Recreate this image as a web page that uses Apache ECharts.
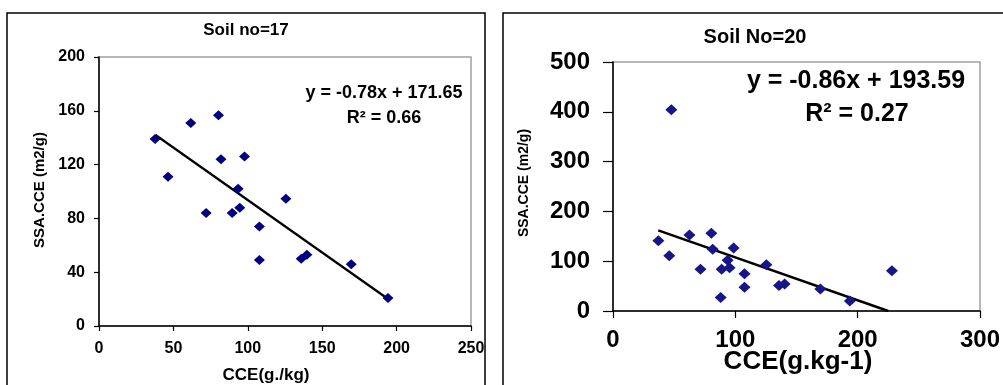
<!DOCTYPE html>
<html>
<head>
<meta charset="utf-8">
<script src="https://cdn.jsdelivr.net/npm/echarts@6/dist/echarts.min.js"></script>
<style>html,body{margin:0;padding:0;background:#fff}#c{width:1003px;height:385px}</style>
</head>
<body>
<div id="c"></div>
<script>
// Soil no=17 : [CCE, SSA.CCE]
const soil17 = [
  [37.7,139],[46.4,111],[61.7,151],[72,84],[80.3,156.6],[82,124],[89.5,84],
  [97.8,126],[93.5,102],[94.6,88],[107.8,74],[107.8,49],[125.6,94.7],
  [135.9,50],[139.7,53],[169.5,46],[194.2,20.8]
];
const trend17 = [[38,142],[195,19.5]];
// Soil No=20
const soil20 = [
  [37.1,141],[46,111],[47.7,404],[62.5,152.6],[71.5,84],[80.4,156],[81.5,124],
  [88,27],[88.8,84],[93.7,102],[95.3,87],[98.6,126.5],[107.5,75],[107.5,47.5],
  [125.4,93],[135.7,51],[140.3,54],[169.5,44],[193.6,20],[228,81]
];
const trend20 = [[37,162],[225,0]];
const xTicksL = [0,250,50];
const yTicksL = [0,200,40];
const xTicksR = [0,300,100];
const yTicksR = [0,500,100];

const FF = '"Liberation Sans", Arial, sans-serif';
const chart = echarts.init(document.getElementById('c'));

function axisCommon(fs, margin, tickLen) {
  return {
    axisLine: {show: true, onZero: false, lineStyle: {color: '#000', width: 1.5}},
    axisTick: {show: true, inside: false, length: tickLen, lineStyle: {color: '#000', width: 1.2}},
    axisLabel: {color: '#000', fontWeight: 'bold', fontSize: fs, fontFamily: FF, margin: margin},
    splitLine: {show: false}
  };
}

const txt = (x, y, text, size, rot) => ({
  type: 'text', x: x, y: y, z: 10, rotation: rot || 0,
  style: {text: text, fontSize: size, fontWeight: 'bold', fontFamily: FF,
    fill: '#000', align: 'center', verticalAlign: 'middle'}
});

chart.setOption({
  animation: false,
  backgroundColor: '#fff',
  grid: [
    {left: 99, top: 57, width: 372, height: 269, show: true, borderColor: '#a0a0a0', borderWidth: 1.5, backgroundColor: 'transparent'},
    {left: 613, top: 62, width: 370, height: 249, show: true, borderColor: '#a0a0a0', borderWidth: 1.5, backgroundColor: 'transparent'}
  ],
  xAxis: [
    Object.assign({type: 'value', gridIndex: 0, min: xTicksL[0], max: xTicksL[1], interval: xTicksL[2]}, axisCommon(16, 15, 5)),
    Object.assign({type: 'value', gridIndex: 1, min: xTicksR[0], max: xTicksR[1], interval: xTicksR[2]}, axisCommon(24, 17, 7))
  ],
  yAxis: [
    Object.assign({type: 'value', gridIndex: 0, min: yTicksL[0], max: yTicksL[1], interval: yTicksL[2]}, axisCommon(16, 14, 5)),
    Object.assign({type: 'value', gridIndex: 1, min: yTicksR[0], max: yTicksR[1], interval: yTicksR[2]}, axisCommon(24, 23, 10))
  ],
  series: [
    {type: 'line', xAxisIndex: 0, yAxisIndex: 0, data: trend17, symbol: 'none',
     lineStyle: {color: '#000', width: 2.2}, z: 2},
    {type: 'scatter', xAxisIndex: 0, yAxisIndex: 0, data: soil17, symbol: 'diamond',
     symbolSize: [11, 10], itemStyle: {color: '#000080', opacity: 1}, z: 3},
    {type: 'line', xAxisIndex: 1, yAxisIndex: 1, data: trend20, symbol: 'none',
     lineStyle: {color: '#000', width: 2.5}, z: 2},
    {type: 'scatter', xAxisIndex: 1, yAxisIndex: 1, data: soil20, symbol: 'diamond',
     symbolSize: [12, 11], itemStyle: {color: '#16168a', opacity: 1}, z: 3}
  ],
  graphic: [
    {type: 'rect', shape: {x: 7, y: 13, width: 478, height: 400}, style: {fill: 'none', stroke: '#000', lineWidth: 1.5}, z: 0},
    {type: 'rect', shape: {x: 503, y: 13, width: 520, height: 400}, style: {fill: 'none', stroke: '#000', lineWidth: 1.5}, z: 0},
    txt(246, 30, 'Soil no=17', 17),
    txt(384, 93, 'y = -0.78x + 171.65', 18),
    txt(384, 118, 'R² = 0.66', 18),
    txt(266, 375, 'CCE(g./kg)', 17),
    txt(40, 190, 'SSA.CCE (m2/g)', 15, Math.PI / 2),
    txt(755, 37, 'Soil No=20', 20),
    txt(856, 81, 'y = -0.86x + 193.59', 25),
    txt(857, 114, 'R² = 0.27', 25),
    txt(798, 362, 'CCE(g.kg-1)', 26),
    txt(524, 183, 'SSA.CCE (m2/g)', 14, Math.PI / 2)
  ]
});
</script>
</body>
</html>
